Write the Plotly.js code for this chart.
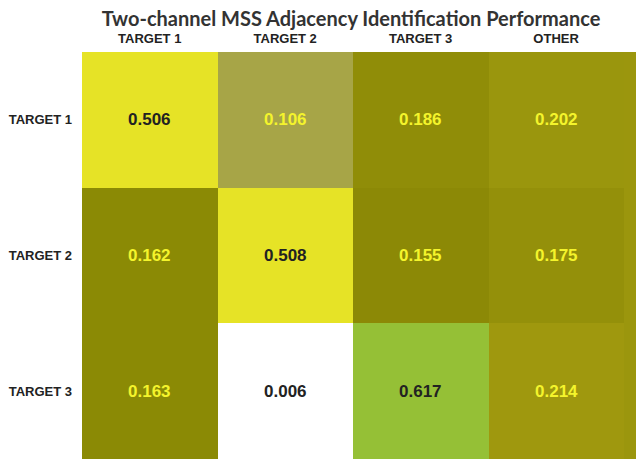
<!DOCTYPE html>
<html>
<head>
<meta charset="utf-8">
<script src="https://cdn.plot.ly/plotly-3.0.1.min.js"></script>
<style>html,body{margin:0;padding:0;background:#fff;}#chart{width:636px;height:462px;}</style>
</head>
<body>
<div id="chart"></div>
<script>
const columns = ["TARGET 1", "TARGET 2", "TARGET 3", "OTHER"];
const rows = ["TARGET 1", "TARGET 2", "TARGET 3"];
const values = [
  [0.506, 0.106, 0.186, 0.202],
  [0.162, 0.508, 0.155, 0.175],
  [0.163, 0.006, 0.617, 0.214]
];

const zmax = 0.617;
const colorscale = [
  [0, "#ffffff"],
  [0.006 / zmax, "#ffffff"],
  [0.106 / zmax, "#a7a547"],
  [0.155 / zmax, "#8c8906"],
  [0.163 / zmax, "#8b8a05"],
  [0.175 / zmax, "#94900a"],
  [0.186 / zmax, "#908d08"],
  [0.202 / zmax, "#9a960d"],
  [0.214 / zmax, "#9f980e"],
  [0.506 / zmax, "#e6e326"],
  [0.508 / zmax, "#e6e326"],
  [1, "#95c036"]
];

const annotations = [];
rows.forEach((r, i) => {
  columns.forEach((c, j) => {
    const v = values[i][j];
    const bright = v > 0.4 || v < 0.05;
    annotations.push({
      x: c, y: r, xref: "x", yref: "y",
      text: v.toFixed(3), showarrow: false,
      font: {family: "Liberation Sans, Arial, sans-serif", size: 17, weight: "bold",
             color: bright ? "#222222" : "#f4f42c"}
    });
  });
});

const data = [{
  type: "heatmap",
  x: columns, y: rows, z: values,
  zmin: 0, zmax: zmax,
  colorscale: colorscale,
  showscale: false,
  hoverinfo: "skip"
}];

const layout = {
  width: 636, height: 462,
  margin: {l: 82, r: 0, t: 52, b: 3},
  paper_bgcolor: "#ffffff", plot_bgcolor: "#9b960d",
  title: {
    text: "Two-channel MSS Adjacency Identification Performance",
    font: {family: "Lato, Open Sans, sans-serif", size: 20, weight: "bold", color: "#333333"},
    xref: "container", yref: "container",
    x: 0.552, xanchor: "center", y: 0.958, yanchor: "middle"
  },
  xaxis: {
    side: "top", type: "category", range: [-0.5, 3.59],
    showgrid: false, zeroline: false, ticks: "", showline: false,
    ticklabelstandoff: 5,
    tickfont: {family: "Liberation Sans, Arial, sans-serif", size: 13, weight: "bold", color: "#222222"}
  },
  yaxis: {
    type: "category", range: [2.5, -0.5],
    showgrid: false, zeroline: false, ticks: "", showline: false,
    ticklabelstandoff: 9,
    tickfont: {family: "Liberation Sans, Arial, sans-serif", size: 13, weight: "bold", color: "#222222"}
  },
  annotations: annotations
};

Plotly.newPlot("chart", data, layout, {displayModeBar: false, staticPlot: true});
</script>
</body>
</html>
